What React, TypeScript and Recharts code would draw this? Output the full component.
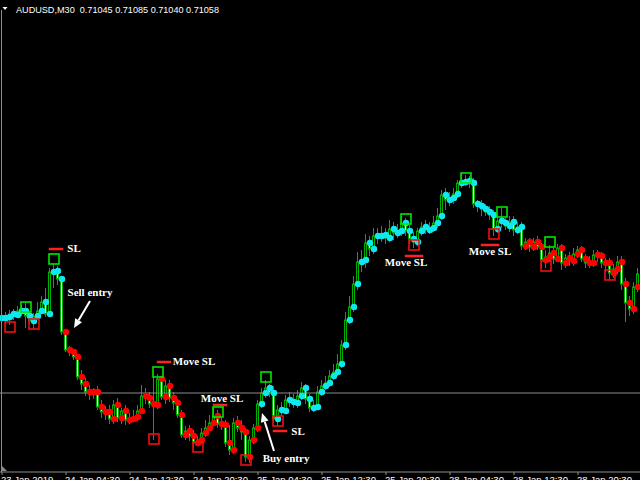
import React from "react";
import { Bar, ComposedChart, Line, ReferenceDot, ReferenceLine, XAxis, YAxis } from "recharts";

// AUDUSD M30, one value per bar (160 bars)
const barOpen = [
  0.70964, 0.70964, 0.70966, 0.70972, 0.70970, 0.70978, 0.70978, 0.70968, 0.70958, 0.70968,
  0.70978, 0.70996, 0.70972, 0.71056, 0.71058, 0.71042, 0.70936, 0.70900, 0.70896, 0.70886,
  0.70846, 0.70832, 0.70816, 0.70816, 0.70816, 0.70786, 0.70776, 0.70776, 0.70762, 0.70790,
  0.70764, 0.70778, 0.70760, 0.70762, 0.70766, 0.70778, 0.70808, 0.70804, 0.70792, 0.70790,
  0.70842, 0.70806, 0.70828, 0.70804, 0.70794, 0.70770, 0.70730, 0.70738, 0.70728, 0.70714,
  0.70720, 0.70734, 0.70744, 0.70754, 0.70768, 0.70752, 0.70750, 0.70714, 0.70700, 0.70754,
  0.70744, 0.70736, 0.70686, 0.70720, 0.70744, 0.70792, 0.70814, 0.70824, 0.70814, 0.70762,
  0.70780, 0.70778, 0.70800, 0.70796, 0.70794, 0.70808, 0.70824, 0.70802, 0.70784, 0.70786,
  0.70816, 0.70828, 0.70834, 0.70848, 0.70856, 0.70872, 0.70910, 0.70960, 0.70986, 0.71032,
  0.71076, 0.71080, 0.71114, 0.71102, 0.71128, 0.71128, 0.71130, 0.71124, 0.71142, 0.71134,
  0.71138, 0.71154, 0.71138, 0.71122, 0.71116, 0.71138, 0.71146, 0.71140, 0.71144, 0.71154,
  0.71168, 0.71210, 0.71200, 0.71204, 0.71212, 0.71234, 0.71236, 0.71238, 0.71234, 0.71192,
  0.71188, 0.71182, 0.71176, 0.71170, 0.71142, 0.71158, 0.71154, 0.71148, 0.71156, 0.71140,
  0.71146, 0.71108, 0.71116, 0.71106, 0.71116, 0.71106, 0.71080, 0.71086, 0.71094, 0.71082,
  0.71104, 0.71074, 0.71084, 0.71078, 0.71092, 0.71100, 0.71082, 0.71074, 0.71074, 0.71090,
  0.71088, 0.71074, 0.71074, 0.71054, 0.71062, 0.71076, 0.71032, 0.70994, 0.70982, 0.71026,
];

const barClose = [
  0.70964, 0.70966, 0.70972, 0.70970, 0.70978, 0.70978, 0.70968, 0.70958, 0.70968, 0.70978,
  0.70996, 0.70972, 0.71056, 0.71058, 0.71042, 0.70936, 0.70900, 0.70896, 0.70886, 0.70846,
  0.70832, 0.70816, 0.70816, 0.70816, 0.70786, 0.70776, 0.70776, 0.70762, 0.70790, 0.70764,
  0.70778, 0.70760, 0.70762, 0.70766, 0.70778, 0.70808, 0.70804, 0.70792, 0.70790, 0.70842,
  0.70806, 0.70828, 0.70804, 0.70794, 0.70770, 0.70730, 0.70738, 0.70728, 0.70714, 0.70720,
  0.70734, 0.70744, 0.70754, 0.70768, 0.70752, 0.70750, 0.70714, 0.70700, 0.70754, 0.70744,
  0.70736, 0.70686, 0.70720, 0.70744, 0.70792, 0.70814, 0.70824, 0.70814, 0.70762, 0.70780,
  0.70778, 0.70800, 0.70796, 0.70794, 0.70808, 0.70824, 0.70802, 0.70784, 0.70786, 0.70816,
  0.70828, 0.70834, 0.70848, 0.70856, 0.70872, 0.70910, 0.70960, 0.70986, 0.71032, 0.71076,
  0.71080, 0.71114, 0.71102, 0.71128, 0.71128, 0.71130, 0.71124, 0.71142, 0.71134, 0.71138,
  0.71154, 0.71138, 0.71122, 0.71116, 0.71138, 0.71146, 0.71140, 0.71144, 0.71154, 0.71168,
  0.71210, 0.71200, 0.71204, 0.71212, 0.71234, 0.71236, 0.71238, 0.71234, 0.71192, 0.71188,
  0.71182, 0.71176, 0.71170, 0.71142, 0.71158, 0.71154, 0.71148, 0.71156, 0.71140, 0.71146,
  0.71108, 0.71116, 0.71106, 0.71116, 0.71106, 0.71080, 0.71086, 0.71094, 0.71082, 0.71104,
  0.71074, 0.71084, 0.71078, 0.71092, 0.71100, 0.71082, 0.71074, 0.71074, 0.71090, 0.71088,
  0.71074, 0.71074, 0.71054, 0.71062, 0.71076, 0.71032, 0.70994, 0.70982, 0.71026, 0.71052,
];

const barHigh = [
  0.70974, 0.70976, 0.70980, 0.70982, 0.70988, 0.70990, 0.70996, 0.70976, 0.70974, 0.70996,
  0.71008, 0.71024, 0.71064, 0.71072, 0.71068, 0.71048, 0.70940, 0.70908, 0.70902, 0.70890,
  0.70860, 0.70844, 0.70830, 0.70824, 0.70828, 0.70800, 0.70788, 0.70790, 0.70800, 0.70804,
  0.70784, 0.70790, 0.70774, 0.70780, 0.70790, 0.70830, 0.70824, 0.70816, 0.70846, 0.70852,
  0.70848, 0.70840, 0.70840, 0.70816, 0.70802, 0.70780, 0.70748, 0.70750, 0.70740, 0.70728,
  0.70744, 0.70760, 0.70770, 0.70784, 0.70780, 0.70764, 0.70760, 0.70750, 0.70764, 0.70768,
  0.70760, 0.70744, 0.70728, 0.70752, 0.70800, 0.70824, 0.70840, 0.70832, 0.70828, 0.70790,
  0.70796, 0.70810, 0.70816, 0.70812, 0.70820, 0.70836, 0.70832, 0.70812, 0.70800, 0.70828,
  0.70840, 0.70848, 0.70860, 0.70872, 0.70892, 0.70920, 0.70976, 0.71008, 0.71048, 0.71096,
  0.71100, 0.71132, 0.71128, 0.71144, 0.71144, 0.71148, 0.71144, 0.71160, 0.71156, 0.71152,
  0.71168, 0.71164, 0.71150, 0.71136, 0.71144, 0.71156, 0.71160, 0.71156, 0.71168, 0.71184,
  0.71220, 0.71224, 0.71216, 0.71224, 0.71240, 0.71252, 0.71250, 0.71248, 0.71244, 0.71200,
  0.71200, 0.71192, 0.71188, 0.71180, 0.71168, 0.71184, 0.71164, 0.71168, 0.71168, 0.71156,
  0.71156, 0.71124, 0.71124, 0.71124, 0.71128, 0.71114, 0.71100, 0.71110, 0.71104, 0.71112,
  0.71112, 0.71092, 0.71096, 0.71104, 0.71108, 0.71108, 0.71092, 0.71088, 0.71100, 0.71100,
  0.71096, 0.71084, 0.71084, 0.71072, 0.71088, 0.71088, 0.71044, 0.71008, 0.71036, 0.71064,
];

const barLow = [
  0.70956, 0.70952, 0.70950, 0.70960, 0.70964, 0.70968, 0.70944, 0.70952, 0.70940, 0.70962,
  0.70972, 0.70966, 0.70966, 0.71024, 0.71030, 0.70930, 0.70896, 0.70888, 0.70880, 0.70840,
  0.70820, 0.70808, 0.70800, 0.70802, 0.70780, 0.70764, 0.70760, 0.70752, 0.70752, 0.70756,
  0.70752, 0.70750, 0.70752, 0.70756, 0.70758, 0.70772, 0.70792, 0.70784, 0.70720, 0.70782,
  0.70800, 0.70792, 0.70796, 0.70780, 0.70764, 0.70724, 0.70720, 0.70718, 0.70704, 0.70708,
  0.70712, 0.70726, 0.70738, 0.70748, 0.70744, 0.70740, 0.70706, 0.70690, 0.70692, 0.70736,
  0.70720, 0.70676, 0.70674, 0.70712, 0.70736, 0.70784, 0.70804, 0.70806, 0.70754, 0.70748,
  0.70768, 0.70772, 0.70786, 0.70784, 0.70784, 0.70800, 0.70792, 0.70776, 0.70776, 0.70780,
  0.70808, 0.70820, 0.70826, 0.70840, 0.70848, 0.70864, 0.70900, 0.70952, 0.70976, 0.71020,
  0.71056, 0.71064, 0.71088, 0.71092, 0.71112, 0.71116, 0.71112, 0.71116, 0.71120, 0.71124,
  0.71128, 0.71128, 0.71112, 0.71104, 0.71108, 0.71128, 0.71132, 0.71132, 0.71136, 0.71144,
  0.71160, 0.71180, 0.71188, 0.71192, 0.71204, 0.71224, 0.71228, 0.71224, 0.71184, 0.71176,
  0.71168, 0.71168, 0.71160, 0.71128, 0.71134, 0.71144, 0.71140, 0.71136, 0.71128, 0.71132,
  0.71100, 0.71100, 0.71096, 0.71098, 0.71100, 0.71064, 0.71064, 0.71076, 0.71072, 0.71076,
  0.71060, 0.71064, 0.71068, 0.71068, 0.71084, 0.71076, 0.71064, 0.71064, 0.71066, 0.71076,
  0.71064, 0.71056, 0.71040, 0.71044, 0.71052, 0.71020, 0.70956, 0.70968, 0.70972, 0.71016,
];

// bar where the indicator dots change colour
const trendStarts = [
  { bar: 0, dir: "up" },
  { bar: 16, dir: "down" },
  { bar: 65, dir: "up" },
  { bar: 131, dir: "down" },
];

const timeTicks = [0, 16, 32, 48, 64, 80, 96, 112, 128, 144];
const timeLabels = [
  "23 Jan 2019", "24 Jan 04:30", "24 Jan 12:30", "24 Jan 20:30", "25 Jan 04:30",
  "25 Jan 12:30", "25 Jan 20:30", "28 Jan 04:30", "28 Jan 12:30", "28 Jan 20:30",
];

// green boxes over swing highs, red boxes under swing lows
const highBoxes = [
  { bar: 6, price: 0.70986 },
  { bar: 13, price: 0.71082 },
  { bar: 39, price: 0.70856 },
  { bar: 54, price: 0.70776 },
  { bar: 66, price: 0.70846 },
  { bar: 101, price: 0.71162 },
  { bar: 116, price: 0.71244 },
  { bar: 125, price: 0.71176 },
  { bar: 137, price: 0.71116 },
];
const lowBoxes = [
  { bar: 2, price: 0.70946 },
  { bar: 8, price: 0.70952 },
  { bar: 38, price: 0.70722 },
  { bar: 49, price: 0.70706 },
  { bar: 61, price: 0.70680 },
  { bar: 69, price: 0.70758 },
  { bar: 103, price: 0.71110 },
  { bar: 123, price: 0.71132 },
  { bar: 136, price: 0.71068 },
  { bar: 152, price: 0.71050 },
];

// stop loss marks (red dashes)
const stopLines = [
  { from: 12, to: 15, price: 0.71102 },
  { from: 39, to: 42, price: 0.70876 },
  { from: 53, to: 56, price: 0.70790 },
  { from: 68, to: 71, price: 0.70738 },
  { from: 101, to: 105, price: 0.71088 },
  { from: 120, to: 124, price: 0.71110 },
];

const notes = [
  { bar: 18, price: 0.71104, text: "SL" },
  { bar: 22, price: 0.71016, text: "Sell entry" },
  { bar: 48, price: 0.70878, text: "Move SL" },
  { bar: 55, price: 0.70804, text: "Move SL" },
  { bar: 74, price: 0.70738, text: "SL" },
  { bar: 71, price: 0.70684, text: "Buy entry" },
  { bar: 101, price: 0.71076, text: "Move SL" },
  { bar: 122, price: 0.71098, text: "Move SL" },
];

const arrows = [
  { fromBar: 22, fromPrice: 0.70998, toBar: 18, toPrice: 0.70944 },
  { fromBar: 68, fromPrice: 0.70698, toBar: 65, toPrice: 0.70774 },
];

const bidLine = 0.70814;

const WICK = "#00b000";
const UP_DOT = "#10e8f0";
const DOWN_DOT = "#ff0000";

const trendAt = (i: number) => {
  let dir = trendStarts[0].dir;
  trendStarts.forEach((t) => {
    if (i >= t.bar) dir = t.dir;
  });
  return dir;
};

const data = barOpen.map((open, i) => ({
  i,
  open,
  close: barClose[i],
  high: barHigh[i],
  low: barLow[i],
  range: [barLow[i], barHigh[i]],
  dir: trendAt(i),
}));

const Candle = (props: any) => {
  const { x, y, width, height, payload } = props;
  const { open, close, high, low } = payload;
  const toY = (p: number) => y + ((high - p) / (high - low)) * height;
  const cx = Math.round(x + width / 2) - 0.5;
  const top = toY(Math.max(open, close));
  const bottom = toY(Math.min(open, close));
  const bear = close < open;
  return (
    <g>
      <line x1={cx} x2={cx} y1={y} y2={y + height} stroke={WICK} strokeWidth={1} />
      <rect
        x={cx - 1}
        y={top}
        width={2}
        height={Math.max(bottom - top, 1)}
        fill={bear ? "#f0fff0" : "#000"}
        stroke={WICK}
        strokeWidth={1}
      />
    </g>
  );
};

const Arrow = (props: any) => {
  const { x1, y1, x2, y2 } = props;
  const ang = Math.atan2(y2 - y1, x2 - x1);
  const bx = x2 - 9 * Math.cos(ang);
  const by = y2 - 9 * Math.sin(ang);
  const px = -Math.sin(ang) * 4;
  const py = Math.cos(ang) * 4;
  return (
    <g>
      <line x1={x1} y1={y1} x2={bx} y2={by} stroke="#fff" strokeWidth={2} />
      <polygon points={`${x2},${y2} ${bx + px},${by + py} ${bx - px},${by - py}`} fill="#fff" />
    </g>
  );
};

const TimeTick = (props: any) => {
  const { x, y, payload } = props;
  const label = timeLabels[timeTicks.indexOf(payload.value)];
  return (
    <text x={x - 1} y={y + 6} fill="#fff" fontSize={9.5} fontFamily="Liberation Sans, Arial, sans-serif" textAnchor="start">
      {label}
    </text>
  );
};

const App = () => {
  return (
    <div style={{ position: "absolute", left: 0, top: 0, width: 640, height: 480, background: "#000", overflow: "hidden" }}>
      <ComposedChart width={640} height={480} data={data} margin={{ top: 0, right: 0, bottom: 0, left: 0 }}>
        <XAxis
          dataKey="i"
          type="category"
          ticks={timeTicks}
          interval={0}
          height={8}
          tickSize={3}
          axisLine={{ stroke: "#8c8c8c" }}
          tickLine={{ stroke: "#8c8c8c" }}
          tick={<TimeTick />}
        />
        <YAxis hide domain={[0.70656, 0.716]} allowDataOverflow />
        <ReferenceLine y={bidLine} stroke="#8c8c8c" strokeWidth={1} />
        <Bar dataKey="range" barSize={4} isAnimationActive={false} shape={(p: any) => <Candle {...p} />} />
        <Line
          dataKey="open"
          stroke="none"
          isAnimationActive={false}
          activeDot={false}
          dot={(p: any) => (
            <circle key={`dot${p.index}`} cx={p.cx} cy={p.cy} r={3.2} fill={p.payload.dir === "up" ? UP_DOT : DOWN_DOT} />
          )}
        />
        {highBoxes.map((b, k) => (
          <ReferenceDot
            key={`hb${k}`}
            x={b.bar}
            y={b.price}
            ifOverflow="visible"
            shape={(p: any) => (
              <rect x={p.cx - 5} y={p.cy - 5} width={10} height={10} fill="none" stroke="#00e600" strokeWidth={1.6} />
            )}
          />
        ))}
        {lowBoxes.map((b, k) => (
          <ReferenceDot
            key={`lb${k}`}
            x={b.bar}
            y={b.price}
            ifOverflow="visible"
            shape={(p: any) => (
              <rect x={p.cx - 5} y={p.cy - 5} width={10} height={10} fill="none" stroke="#ee1111" strokeWidth={1.6} />
            )}
          />
        ))}
        {stopLines.map((s, k) => (
          <ReferenceLine
            key={`sl${k}`}
            segment={[{ x: s.from, y: s.price }, { x: s.to, y: s.price }]}
            stroke="#ff2020"
            strokeWidth={2.5}
            strokeLinecap="square"
            ifOverflow="visible"
          />
        ))}
        {arrows.map((a, k) => (
          <ReferenceLine
            key={`ar${k}`}
            segment={[{ x: a.fromBar, y: a.fromPrice }, { x: a.toBar, y: a.toPrice }]}
            ifOverflow="visible"
            shape={(p: any) => <Arrow {...p} />}
          />
        ))}
        {notes.map((n, k) => (
          <ReferenceDot
            key={`nt${k}`}
            x={n.bar}
            y={n.price}
            ifOverflow="visible"
            shape={(p: any) => (
              <text
                x={p.cx}
                y={p.cy}
                fill="#fff"
                fontSize={11}
                fontWeight="bold"
                fontFamily="Liberation Serif, Times New Roman, serif"
                textAnchor="middle"
                dominantBaseline="central"
              >
                {n.text}
              </text>
            )}
          />
        ))}
      </ComposedChart>
      <svg width={640} height={480} style={{ position: "absolute", left: 0, top: 0, pointerEvents: "none" }}>
        <line x1={1.5} x2={1.5} y1={10} y2={472} stroke="#8c8c8c" />
        <polygon points="2.5,7 7.5,7 5,10" fill="#fff" />
        <text
          x={16}
          y={12.5}
          fill="#fff"
          fontSize={9.5}
          fontFamily="Liberation Sans, Arial, sans-serif"
          textLength={203}
          lengthAdjust="spacingAndGlyphs"
          style={{ whiteSpace: "pre" }}
        >
          AUDUSD,M30  0.71045 0.71085 0.71040 0.71058
        </text>
        <polygon points="2,466 2,471 7,471" fill="#8c8c8c" />
      </svg>
    </div>
  );
};

export default App;
